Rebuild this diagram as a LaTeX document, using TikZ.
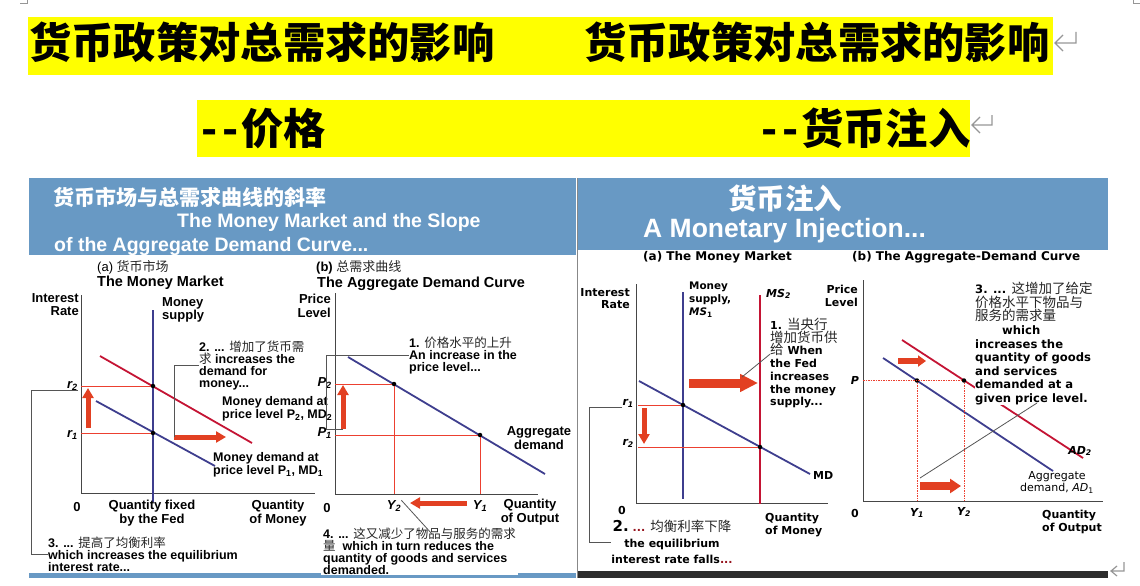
\documentclass[tikz,border=0pt]{standalone}
\usepackage{fontspec}
\setmainfont{Liberation Sans}
\newfontfamily\zhfont{Noto Sans CJK SC}
\newfontfamily\vfont{DejaVu Sans}
\usetikzlibrary{arrows.meta,positioning}

\definecolor{titleyellow}{RGB}{255,255,0}
\definecolor{bandblue}{RGB}{104,153,196}
\definecolor{navy}{RGB}{62,62,142}
\definecolor{crimson}{RGB}{196,20,52}
\definecolor{thinred}{RGB}{236,64,48}
\definecolor{arrowred}{RGB}{226,64,34}
\definecolor{leadgray}{RGB}{85,85,85}
\definecolor{axisgray}{RGB}{70,70,70}
\definecolor{retgray}{RGB}{150,150,150}
\definecolor{darkbar}{RGB}{45,45,45}
\definecolor{dotsred}{RGB}{150,20,30}

\newcommand{\zhn}[1]{{\zhfont\mdseries\color{black!85}#1}}
\newcommand{\zhw}[1]{{\zhfont\mdseries\fontsize{13.5}{\baselineskip}\selectfont\color{black!85}#1}}
\newcommand{\dashes}{\makebox[21pt]{-}\makebox[21pt]{-}}
\lineskiplimit=-20pt

\begin{document}
\begin{tikzpicture}[x=1pt, y=-1pt, >=latex]
    \tikzstyle{headline} = [inner sep=0pt, anchor=base west, font=\zhfont\bfseries\fontsize{42.3}{42.3}\selectfont]
    \tikzstyle{bandzh} = [inner sep=0pt, text=white, font=\zhfont\bfseries\fontsize{21}{21}\selectfont]
    \tikzstyle{bandtxt} = [inner sep=0pt, text=white, font=\bfseries\fontsize{19.5}{19.5}\selectfont]
    \tikzstyle{lbl} = [inner sep=0pt, align=center, font=\bfseries\fontsize{13}{13.5}\selectfont]
    \tikzstyle{rlab} = [inner sep=0pt, font=\bfseries\itshape\fontsize{13}{13}\selectfont]
    \tikzstyle{notetxt} = [inner sep=0pt, align=left, anchor=north west, font=\bfseries\fontsize{12.5}{11.8}\selectfont]
    \tikzstyle{vlbl} = [inner sep=0pt, align=center, font=\vfont\bfseries\fontsize{11}{12.5}\selectfont]
    \tikzstyle{vrlab} = [inner sep=0pt, font=\vfont\bfseries\itshape\fontsize{11}{11}\selectfont]
    \tikzstyle{vnote} = [inner sep=0pt, align=left, anchor=north west, font=\vfont\bfseries\fontsize{11}{12.7}\selectfont]
    \tikzstyle{eqdot} = [circle, fill=black, inner sep=0pt, minimum size=4.5pt]
    \tikzstyle{axisline} = [draw=axisgray, line width=1pt]
    \tikzstyle{bluecurve} = [draw=navy, line width=1.8pt]
    \tikzstyle{redcurve} = [draw=crimson, line width=1.8pt]
    \tikzstyle{guideline} = [draw=thinred, line width=1pt]
    \tikzstyle{dotguide} = [guideline, dash pattern=on 1.5pt off 1pt]
    \tikzstyle{leader} = [draw=leadgray, line width=0.8pt]
    \tikzstyle{pusharrow} = [draw=arrowred, line width=5pt, -{Triangle[length=10pt, width=11pt]}]
    \tikzstyle{bigpush} = [draw=arrowred, line width=9pt, -{Triangle[length=18pt, width=17pt]}]
    \tikzstyle{retmark} = [draw=retgray, line width=1.2pt]

    \useasboundingbox (0,0) rectangle (1140,586);

    \fill [titleyellow] (28,17) rectangle (1053,75);
    \fill [titleyellow] (197,100) rectangle (970,157);
    \node [headline] (head1) at (29,59) {货币政策对总需求的影响};
    \node [headline] (head2) at (584,59) {货币政策对总需求的影响};
    \node [headline] (sub1) at (199,144) {\dashes 价格};
    \node [headline] (sub2) at (759,144) {\dashes 货币注入};
    \draw [retmark] (1076,32) -- (1076,43) -- (1056,43) (1063,35) -- (1055,43) -- (1063,51);
    \draw [retmark] (992,115) -- (992,125) -- (973,125) (980,117) -- (972,125) -- (980,133);
    \draw [retmark] (1124,562) -- (1124,571) -- (1112,571) (1117,566) -- (1111,571) -- (1117,576);
    \draw [retmark, line width=0.8pt] (20,3) -| (27,0);
    \draw [retmark, line width=0.8pt] (1133,0) |- (1140,3);

    % left slide
    \fill [bandblue] (29,178) rectangle (576,255);
    \fill [bandblue] (29,573) rectangle (576,578);
    \node [bandzh, anchor=base west] (lhead1) at (53,205) {货币市场与总需求曲线的斜率};
    \node [bandtxt, anchor=base west] (lhead2) at (177,227) {The Money Market and the Slope};
    \node [bandtxt, anchor=base west] (lhead3) at (54,251) {of the Aggregate Demand Curve...};
    \node [inner sep=0pt, anchor=base west, font=\fontsize{13}{13}\selectfont] (tagA) at (97,271) {(a) \zhn{货币市场}};
    \node [inner sep=0pt, anchor=base west, font=\bfseries\fontsize{13}{13}\selectfont] (tagB) at (316,271) {(b) \zhn{总需求曲线}};

    \node [lbl, anchor=base west, font=\bfseries\fontsize{14.5}{14.5}\selectfont] (capA) at (97,286) {The Money Market};
    \node [lbl, align=right, anchor=north east] (irA) at (79,293) {Interest\\Rate};
    \node [lbl, align=left, anchor=north west] (msA) at (162,297) {Money\\supply};
    \coordinate (oA) at (81,493);
    \draw [axisline] (81,295) -- (oA) -- (315,493);
    \draw [bluecurve] (153,310) -- (153,502);
    \draw [redcurve] (100,356) -- (252,443);
    \draw [bluecurve] (96,401) -- (215,466);
    \node [eqdot] (eA2) at (153,386) {};
    \node [eqdot] (eA1) at (153,433) {};
    \draw [guideline] (oA |- eA2) -- (eA2);
    \draw [guideline] (oA |- eA1) -- (eA1);
    \node [rlab, anchor=east] (rA2) at (78,386) {r\textsubscript{2}};
    \node [rlab, anchor=east] (rA1) at (78,435) {r\textsubscript{1}};
    \draw [pusharrow] (88,428) -- (88,388);
    \coordinate (mdtail) at (174,437);
    \draw [pusharrow] (mdtail) -- (226,437);
    \node [notetxt] (noteA2) at (199,341) {2. ... \zhn{增加了货币需}\\\zhn{求} increases the\\demand for\\money...};
    \draw [leader] (mdtail) |- (noteA2.west);
    \node [notetxt, font=\bfseries\fontsize{12.5}{13.5}\selectfont] (mdA2) at (222,396) {Money demand at\\price level P\textsubscript{2}, MD\textsubscript{2}};
    \node [notetxt, font=\bfseries\fontsize{12.5}{13.5}\selectfont] (mdA1) at (213,452) {Money demand at\\price level P\textsubscript{1}, MD\textsubscript{1}};
    \node [lbl] (zeroA) at (77,507) {0};
    \node [lbl] (fedA) at (152,513) {Quantity fixed\\by the Fed};
    \node [lbl] (qmA) at (278,513) {Quantity\\of Money};
    \node [notetxt] (noteA3) at (48,537) {3. ... \zhn{提高了均衡利率}\\which increases the equilibrium\\interest rate...};
    \draw [leader] (rA2.south east) -- ++(-47,0) |- (noteA3.west);

    \node [lbl, anchor=base west, font=\bfseries\fontsize{14.5}{14.5}\selectfont] (capB) at (317,287) {The Aggregate Demand Curve};
    \node [lbl, align=right, anchor=north east] (plB) at (331,294) {Price\\Level};
    \coordinate (oB) at (335,494);
    \draw [axisline] (335,293) -- (oB) -- (538,494);
    \draw [bluecurve] (348,357) -- (545,474);
    \node [eqdot] (eB2) at (394,384) {};
    \node [eqdot] (eB1) at (480,435) {};
    \draw [guideline] (oB |- eB2) -- (eB2) -- (eB2 |- oB);
    \draw [guideline] (oB |- eB1) -- (eB1) -- (eB1 |- oB);
    \node [rlab, anchor=east] (pB2) at (332,383) {P\textsubscript{2}};
    \node [rlab, anchor=east] (pB1) at (332,433) {P\textsubscript{1}};
    \coordinate (ptail) at (343,429);
    \draw [pusharrow] (ptail) -- (343,385);
    \node [notetxt] (noteB1) at (409,337) {1. \zhn{价格水平的上升}\\An increase in the\\price level...};
    \draw [leader] (ptail) -- ++(-17,0) |- (noteB1.west);
    \node [lbl] (adB) at (539,438) {Aggregate\\demand};
    \node [lbl] (zeroB) at (327,508) {0};
    \node [rlab] (yB2) at (394,506) {Y\textsubscript{2}};
    \node [rlab] (yB1) at (480,506) {Y\textsubscript{1}};
    \node [lbl] (qoB) at (530,512) {Quantity\\of Output};
    \draw [pusharrow] (467,503) -- (410,503);
    \node [notetxt, fill=white, inner xsep=2pt, inner ysep=1pt] (noteB4) at (321,527) {4. ... \zhn{这又减少了物品与服务的需求}\\\zhn{量}\ \ which in turn reduces the\\quantity of goods and services\\demanded.};
    \draw [leader] (yB2.north east) -- (432,534);

    % right slide
    \draw [leadgray!70, line width=1pt] (577,178) -- (577,578);
    \fill [bandblue] (578,178) rectangle (1108,250);
    \fill [darkbar] (578,571) rectangle (1108,578);
    \node [bandzh, anchor=base, font=\zhfont\bfseries\fontsize{28.5}{28.5}\selectfont] (rhead1) at (785,209) {货币注入};
    \node [bandtxt, anchor=base west, font=\bfseries\fontsize{26.5}{26.5}\selectfont] (rhead2) at (643,237) {A Monetary Injection...};
    \node [vlbl, anchor=base west, font=\vfont\bfseries\fontsize{12}{12}\selectfont] (capC) at (643,260) {(a) The Money Market};
    \node [vlbl, anchor=base west, font=\vfont\bfseries\fontsize{12}{12}\selectfont] (capD) at (852,260) {(b) The Aggregate-Demand Curve};

    \node [vlbl, align=right, anchor=north east] (irC) at (630,288) {Interest\\Rate};
    \coordinate (oC) at (636,503);
    \draw [axisline] (636,284) -- (oC) -- (828,503);
    \draw [bluecurve] (683,292) -- (683,499);
    \draw [redcurve, line width=2.4pt] (760,295) -- (760,504);
    \node [vnote, font=\vfont\bfseries\fontsize{10.4}{12.8}\selectfont] (msC1) at (689,282) {Money\\supply,\\\textit{MS}\textsubscript{1}};
    \node [vrlab, anchor=base west] (msC2) at (766,297) {MS\textsubscript{2}};
    \draw [bluecurve] (639,381) -- (810,474);
    \node [vlbl, anchor=west] (mdC) at (813,475) {MD};
    \node [eqdot] (eC1) at (683,405) {};
    \node [eqdot] (eC2) at (760,447) {};
    \draw [guideline] ([xshift=2pt]oC |- eC1) -- (eC1);
    \draw [guideline] ([xshift=2pt]oC |- eC2) -- (eC2);
    \node [vrlab, anchor=east] (rC1) at (634,403) {r\textsubscript{1}};
    \node [vrlab, anchor=east] (rC2) at (634,443) {r\textsubscript{2}};
    \draw [pusharrow] (644,408) -- (644,444);
    \draw [bigpush] (689,383) -- (758,383);
    \node [vnote] (noteC1) at (770,318) {1. \zhw{当央行}\\\zhw{增加货币供}\\\zhw{给} When\\the Fed\\increases\\the money\\supply...};
    \draw [leader] ([yshift=9pt]noteC1.west) -- (742,377);
    \node [vlbl] (zeroC) at (622,510) {0};
    \node [vnote] (qmC) at (765,513) {Quantity\\of Money};
    \node [vlbl, font=\vfont\bfseries\fontsize{11}{16}\selectfont, anchor=north] (noteC2) at (672,520) {{\fontsize{15}{16}\selectfont 2.}\ {\color{dotsred}...} \zhw{均衡利率下降}\\the equilibrium\\interest rate falls{\color{dotsred}...}};
    \draw [leader] (rC1.south west) -- ++(-33,0) |- (noteC2.west);

    \node [vlbl, align=right, anchor=north east] (plD) at (858,285) {Price\\Level};
    \coordinate (oD) at (863,501);
    \draw [axisline] (863,280) -- (oD) -- (1103,501);
    \draw [bluecurve] (883,358) -- (1053,471);
    \draw [redcurve] (902,340) -- (1083,458);
    \node [eqdot] (eD1) at (917,380.5) {};
    \node [eqdot] (eD2) at (964,380.5) {};
    \draw [dotguide] (oD |- eD2) -- (eD2) -- (eD2 |- oD);
    \draw [dotguide] (eD1) -- (eD1 |- oD);
    \node [vrlab, anchor=east] (pD) at (859,380) {P};
    \draw [pusharrow, line width=5.5pt, -{Triangle[length=8pt, width=11pt]}] (898,361) -- (926,361);
    \draw [bigpush, line width=8pt, -{Triangle[length=11pt, width=14pt]}] (920,486) -- (961,486);
    \coordinate (leadD) at (920,478);
    \node [vrlab] (yD1) at (917,513) {Y\textsubscript{1}};
    \node [vrlab] (yD2) at (964,512) {Y\textsubscript{2}};
    \node [vlbl] (zeroD) at (855,513) {0};
    \node [vnote] (qoD) at (1042,510) {Quantity\\of Output};
    \node [vrlab, anchor=east] (adD2) at (1092,451) {AD\textsubscript{2}};
    \node [vlbl, font=\vfont\fontsize{11}{12}\selectfont, anchor=north] (adD1) at (1057,471) {Aggregate\\demand, \textit{AD}\textsubscript{1}};
    \node [vnote, fill=white, font=\vfont\bfseries\fontsize{11.6}{13.6}\selectfont] (noteD3) at (975,282) {3. ... \zhw{这增加了给定}\\\zhw{价格水平下物品与}\\\zhw{服务的需求量}\\\hspace*{27pt}which\\increases the\\quantity of goods\\and services\\demanded at a\\given price level.};
    \draw [leader] (leadD) -- (1037,403);
\end{tikzpicture}
\end{document}
